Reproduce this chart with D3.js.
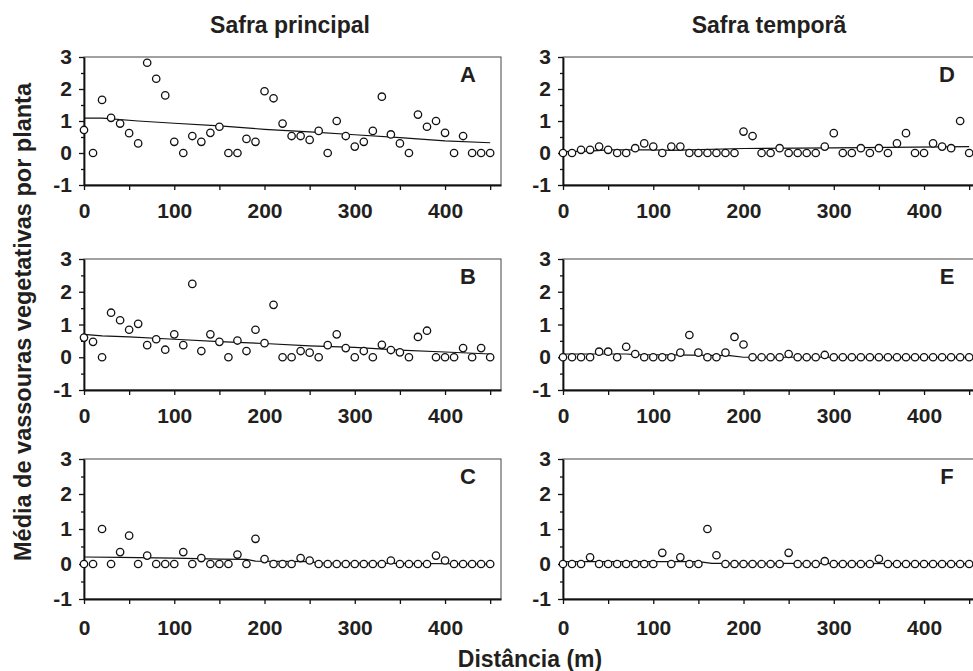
<!DOCTYPE html>
<html>
<head>
<meta charset="utf-8">
<script src="https://cdn.jsdelivr.net/npm/d3@7"></script>
<style>
  body { margin: 0; background: #fff; }
  svg text { font-family: "Liberation Sans", Arial, sans-serif; font-weight: bold; fill: #231f20; }
</style>
</head>
<body>
<div id="chart"></div>
<script>
// distance along the transect (m)
const distancia = [0,10,20,30,40,50,60,70,80,90,100,110,120,130,140,150,160,170,180,190,200,210,220,230,240,250,260,270,280,290,300,310,320,330,340,350,360,370,380,390,400,410,420,430,440,450];

// Safra principal
const valA = [0.72,0,1.66,1.1,0.92,0.62,0.3,2.82,2.32,1.8,0.35,0,0.53,0.35,0.63,0.82,0,0,0.44,0.35,1.93,1.71,0.92,0.53,0.53,0.41,0.69,0,1.0,0.53,0.2,0.35,0.69,1.76,0.58,0.3,0,1.2,0.82,1.0,0.63,0,0.53,0,0,0];
const valB = [0.6,0.47,0,1.36,1.13,0.84,1.02,0.37,0.55,0.23,0.7,0.37,2.24,0.19,0.7,0.47,0,0.51,0.19,0.84,0.43,1.6,0,0,0.19,0.14,0,0.37,0.7,0.28,0,0.19,0,0.38,0.22,0.15,0,0.62,0.81,0,0,0,0.28,0,0.28,0];
const valC = [0,0,1.0,0,0.34,0.81,0,0.24,0,0,0,0.34,0,0.17,0,0,0,0.27,0,0.72,0.14,0,0,0,0.17,0.1,0,0,0,0,0,0,0,0,0.1,0,0,0,0,0.24,0.1,0,0,0,0,0];
// Safra temporã
const valD = [0,0,0.1,0.1,0.2,0.1,0,0,0.15,0.3,0.2,0,0.2,0.2,0,0,0,0,0,0,0.67,0.53,0,0,0.15,0,0,0,0,0.2,0.62,0,0,0.15,0,0.15,0,0.3,0.62,0,0,0.3,0.2,0.15,1.0,0];
const valE = [0,0,0,0,0.17,0.17,0,0.32,0.1,0,0,0,0,0.14,0.68,0.14,0,0,0.14,0.62,0.39,0,0,0,0,0.1,0,0,0,0.07,0,0,0,0,0,0,0,0,0,0,0,0,0,0,0,0];
const valF = [0,0,0,0.19,0,0,0,0,0,0,0,0.32,0,0.19,0,0,1.0,0.25,0,0,0,0,0,0,0,0.32,0,0,0,0.08,0,0,0,0,0,0.15,0,0,0,0,0,0,0,0,0,0];

// fitted trend curves
const trendXA = [0,20,60,100,150,200,250,300,350,400,450];
const trendA  = [1.09,1.09,1.0,0.93,0.85,0.74,0.66,0.57,0.48,0.38,0.32];
const trendXB = [0,20,50,100,150,200,250,300,350,400,450];
const trendB  = [0.7,0.65,0.62,0.55,0.48,0.42,0.35,0.3,0.22,0.16,0.1];
const trendXC = [0,40,100,150,180,190,250,260,350,450];
const trendC  = [0.2,0.19,0.17,0.14,0.13,0.08,0.07,0.03,0.02,0.0];
const trendXD = [0,30,50,100,120,140,200,300,450];
const trendD  = [0.04,0.06,0.1,0.1,0.08,0.1,0.14,0.16,0.2];
const trendXE = [0,70,80,120,185,200,450];
const trendE  = [0.1,0.1,0.08,0.07,0.05,0.0,0.0];
const trendXF = [0,150,165,450];
const trendF  = [0.07,0.07,0.02,0.01];

const letras = ["A","B","C","D","E","F"];
const titulos = ["Safra principal", "Safra temporã"];

const panels = [
  {letra: letras[0], col: 0, row: 0, vals: valA, tx: trendXA, ty: trendA},
  {letra: letras[1], col: 0, row: 1, vals: valB, tx: trendXB, ty: trendB},
  {letra: letras[2], col: 0, row: 2, vals: valC, tx: trendXC, ty: trendC},
  {letra: letras[3], col: 1, row: 0, vals: valD, tx: trendXD, ty: trendD},
  {letra: letras[4], col: 1, row: 1, vals: valE, tx: trendXE, ty: trendE},
  {letra: letras[5], col: 1, row: 2, vals: valF, tx: trendXF, ty: trendF}
];

const W = 973, H = 671;
const colX = [84, 563];
const rowY = [57, 259, 459];
const rowH = [128, 131, 140];
const pw = 417;

const svg = d3.select("#chart").append("svg")
  .attr("width", W).attr("height", H);

const x = d3.scaleLinear().domain([0, 462]).range([0, pw]);

panels.forEach(function(p) {
  let ph = rowH[p.row];
  let y = d3.scaleLinear().domain([-1, 3]).range([ph, 0]);
  let g = svg.append("g")
    .attr("transform", "translate(" + colX[p.col] + "," + rowY[p.row] + ")");

  // frame
  g.append("rect")
    .attr("width", pw).attr("height", ph)
    .attr("fill", "none")
    .attr("stroke", "#555")
    .attr("stroke-width", 1.1);

  let xAxis = d3.axisBottom(x)
    .tickValues(d3.range(0, 451, 50))
    .tickFormat(d => d % 100 === 0 ? String(d) : "")
    .tickSize(5).tickSizeOuter(0).tickPadding(p.row === 2 ? 16 : 13);
  let yAxis = d3.axisLeft(y)
    .tickValues(d3.range(-1, 3.01, 0.5))
    .tickFormat(d => Number.isInteger(d) ? String(d) : "")
    .tickSize(5).tickSizeOuter(0).tickPadding(7);

  let gx = g.append("g").attr("transform", "translate(0," + ph + ")").call(xAxis);
  let gy = g.append("g").call(yAxis);
  [gx, gy].forEach(a => {
    a.select(".domain").attr("stroke", "#111").attr("stroke-width", 1.8);
    a.selectAll(".tick line").attr("stroke", "#111").attr("stroke-width", 1.3);
    a.selectAll(".tick text").style("font-size", "21px").attr("fill", "#231f20");
  });
  gy.selectAll(".tick").filter(d => !Number.isInteger(d)).select("line").attr("x2", -3);

  // trend curve
  let line = d3.line().x(d => x(d[0])).y(d => y(d[1]));
  g.append("path")
    .datum(d3.zip(p.tx, p.ty))
    .attr("d", line)
    .attr("fill", "none")
    .attr("stroke", "#111")
    .attr("stroke-width", 1.2);

  // points
  g.selectAll("circle")
    .data(d3.zip(distancia, p.vals))
    .enter()
    .append("circle")
    .attr("cx", d => x(d[0]))
    .attr("cy", d => y(d[1]))
    .attr("r", 3.7)
    .attr("fill", "#fff")
    .attr("stroke", "#111")
    .attr("stroke-width", 1.3);

  g.append("text")
    .attr("x", pw - 33).attr("y", 25)
    .attr("text-anchor", "middle")
    .style("font-size", "22px")
    .text(p.letra);
});

// column titles
const tituloX = [290, 769];
titulos.forEach(function(t, i) {
  svg.append("text")
    .attr("x", tituloX[i]).attr("y", 33)
    .attr("text-anchor", "middle")
    .style("font-size", "23px")
    .text(t);
});

// axis titles
svg.append("text")
  .attr("transform", "translate(31,322) rotate(-90)")
  .attr("text-anchor", "middle")
  .style("font-size", "23.5px")
  .text("Média de vassouras vegetativas por planta");

svg.append("text")
  .attr("x", 530).attr("y", 667)
  .attr("text-anchor", "middle")
  .style("font-size", "23px")
  .text("Distância (m)");
</script>
</body>
</html>
